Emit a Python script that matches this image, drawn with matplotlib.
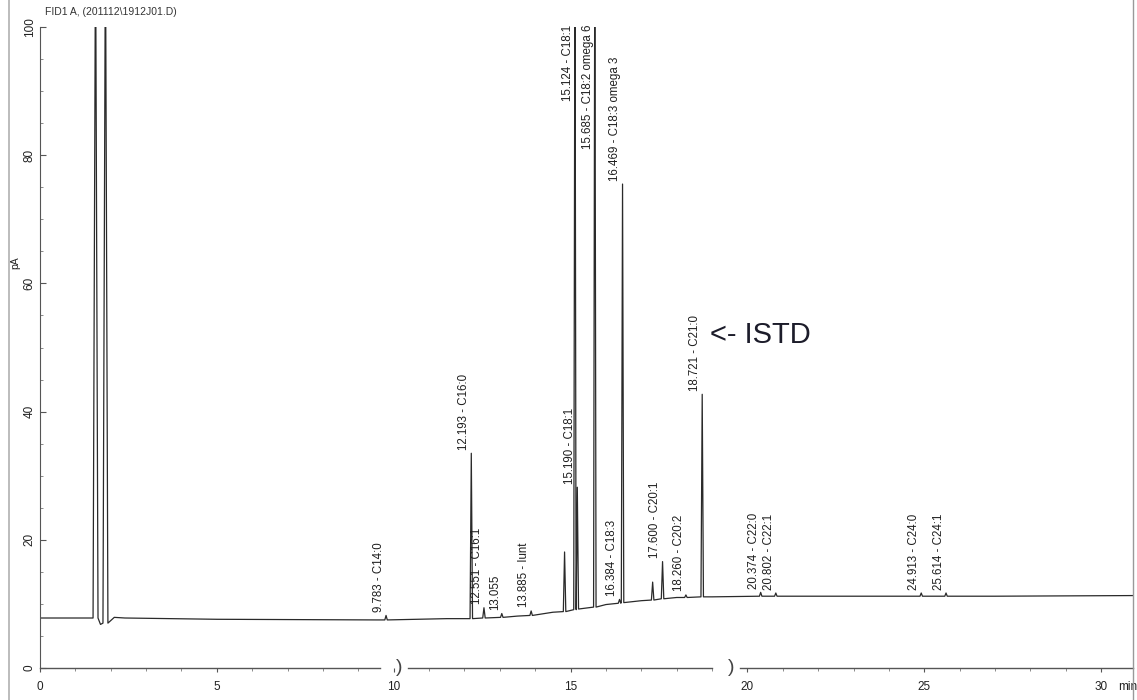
import matplotlib
matplotlib.use("Agg")
import matplotlib.pyplot as plt
from matplotlib.lines import Line2D

plt.rcParams['font.family'] = ['Liberation Sans', 'DejaVu Sans']

# baseline of the trace (min, pA)
base_t = [0.0, 1.40, 1.71, 2.10, 2.40, 5.0, 9.5, 11.5, 13.5, 14.5, 16.0, 17.0, 18.0, 19.0, 22.0, 27.0, 30.9]
base_y = [7.8, 7.8, 6.8, 7.9, 7.8, 7.6, 7.5, 7.7, 8.1, 8.7, 9.9, 10.5, 11.0, 11.1, 11.2, 11.2, 11.3]

# peaks: retention time, level at foot, apex (values > 100 are off scale)
peak_rt = [1.57, 1.85, 9.783, 12.193, 12.551, 13.055, 13.885, 14.83, 15.124, 15.190,
           15.685, 16.384, 16.469, 17.32, 17.600, 18.260, 18.721, 20.374, 20.802, 24.913, 25.614]
peak_base = [7.8, 7.0, 7.5, 7.7, 7.8, 7.9, 8.2, 8.8, 9.1, 9.2,
             9.5, 10.1, 10.2, 10.6, 10.8, 11.0, 11.1, 11.2, 11.2, 11.2, 11.2]
peak_top = [115, 115, 8.2, 33.5, 9.4, 8.5, 8.9, 18.1, 115, 28.2,
            115, 10.7, 75.5, 13.4, 16.6, 11.4, 42.7, 11.8, 11.7, 11.7, 11.7]
peak_name = ["", "", "9.783 - C14:0", "12.193 - C16:0", "12.551 - C16:1", "13.055",
             "13.885 - Iunt", "", "15.124 - C18:1", "15.190 - C18:1",
             "15.685 - C18:2 omega 6", "16.384 - C18:3", "16.469 - C18:3 omega 3", "",
             "17.600 - C20:1", "18.260 - C20:2", "18.721 - C21:0", "20.374 - C22:0",
             "20.802 - C22:1", "24.913 - C24:0", "25.614 - C24:1"]

x_ticks = [0, 5, 10, 15, 20, 25, 30]
y_ticks = [0, 20, 40, 60, 80, 100]

fig = plt.figure(figsize=(11.37, 7.0), dpi=100)
ax = fig.add_axes([40 / 1137, 1 - 668 / 700, (1133 - 40) / 1137, (668 - 27) / 700])

# build the trace: baseline knots plus a narrow triangle per peak
pts = list(zip(base_t, base_y))
for rt, b, top in zip(peak_rt, peak_base, peak_top):
    hw = 0.07 if rt < 3 else 0.035
    pts += [(rt - hw, b), (rt, top), (rt + hw, b)]
pts.sort()
tx = [p[0] for p in pts]
ty = [p[1] for p in pts]
ax.plot(tx, ty, color='#2a2a2a', lw=0.9)

ax.set_xlim(0, 30.9)
ax.set_ylim(0, 100)

# peak labels
for rt, top, name in zip(peak_rt, peak_top, peak_name):
    if not name:
        continue
    if top > 100:
        ax.annotate(name, (rt, 100), xytext=(-0.8, 1.5), textcoords='offset points',
                    rotation=90, ha='right', va='top', fontsize=8.3, color='#1e1e1e',
                    annotation_clip=False)
    else:
        ax.annotate(name, (rt, top), xytext=(-0.8, 2.5), textcoords='offset points',
                    rotation=90, ha='right', va='bottom', fontsize=8.3, color='#1e1e1e')

ax.text(18.95, 52.0, "<- ISTD", fontsize=21, color='#1c1c2a', ha='left', va='center')

# axes styling
for s in ['top', 'right', 'bottom']:
    ax.spines[s].set_visible(False)
ax.spines['left'].set_color('#555555')

# broken x axis
segs = [(0, 9.6), (10.4, 19.0), (19.8, 30.9)]
for a, b in segs:
    ax.plot([a, b], [0, 0], color='#555555', lw=1.0, clip_on=False)
for xb in [10.15, 19.55]:
    ax.text(xb, 0, ")", fontsize=14, color='#444444', ha='center', va='center')

ax.set_xticks(x_ticks)
ax.set_xticks(range(0, 31), minor=True)
ax.set_yticks(y_ticks)
ax.set_yticks(range(0, 101, 5), minor=True)
ax.set_yticklabels([str(v) for v in y_ticks], rotation=90, va='center')
ax.tick_params(axis='x', which='major', direction='out', length=3, labelsize=8.5,
               colors='#555555', labelcolor='#222222', pad=6)
ax.tick_params(axis='x', which='minor', direction='out', length=2, colors='#777777')
ax.tick_params(axis='y', which='major', direction='in', length=4, labelsize=8.5,
               colors='#555555', labelcolor='#222222', pad=3)
ax.tick_params(axis='y', which='minor', direction='in', length=2, colors='#777777')
ax.set_ylabel("pA", fontsize=7.5, color='#222222')
ax.yaxis.set_label_coords(-0.018, 0.633)

ax.text(30.75, -3.0, "min", fontsize=8.5, color='#222222', ha='center', va='center')
fig.text(45 / 1137, 1 - 12 / 700, "FID1 A, (201112\\1912J01.D)", fontsize=7.5,
         color='#333333', ha='left', va='center')

# frame lines of the original print
fig.add_artist(Line2D([9 / 1137, 9 / 1137], [0, 1], color='#b0b0b0', lw=1.2))
fig.add_artist(Line2D([1133 / 1137, 1133 / 1137], [0, 1], color='#999999', lw=1.0))

fig.savefig("out.png", dpi=100)
